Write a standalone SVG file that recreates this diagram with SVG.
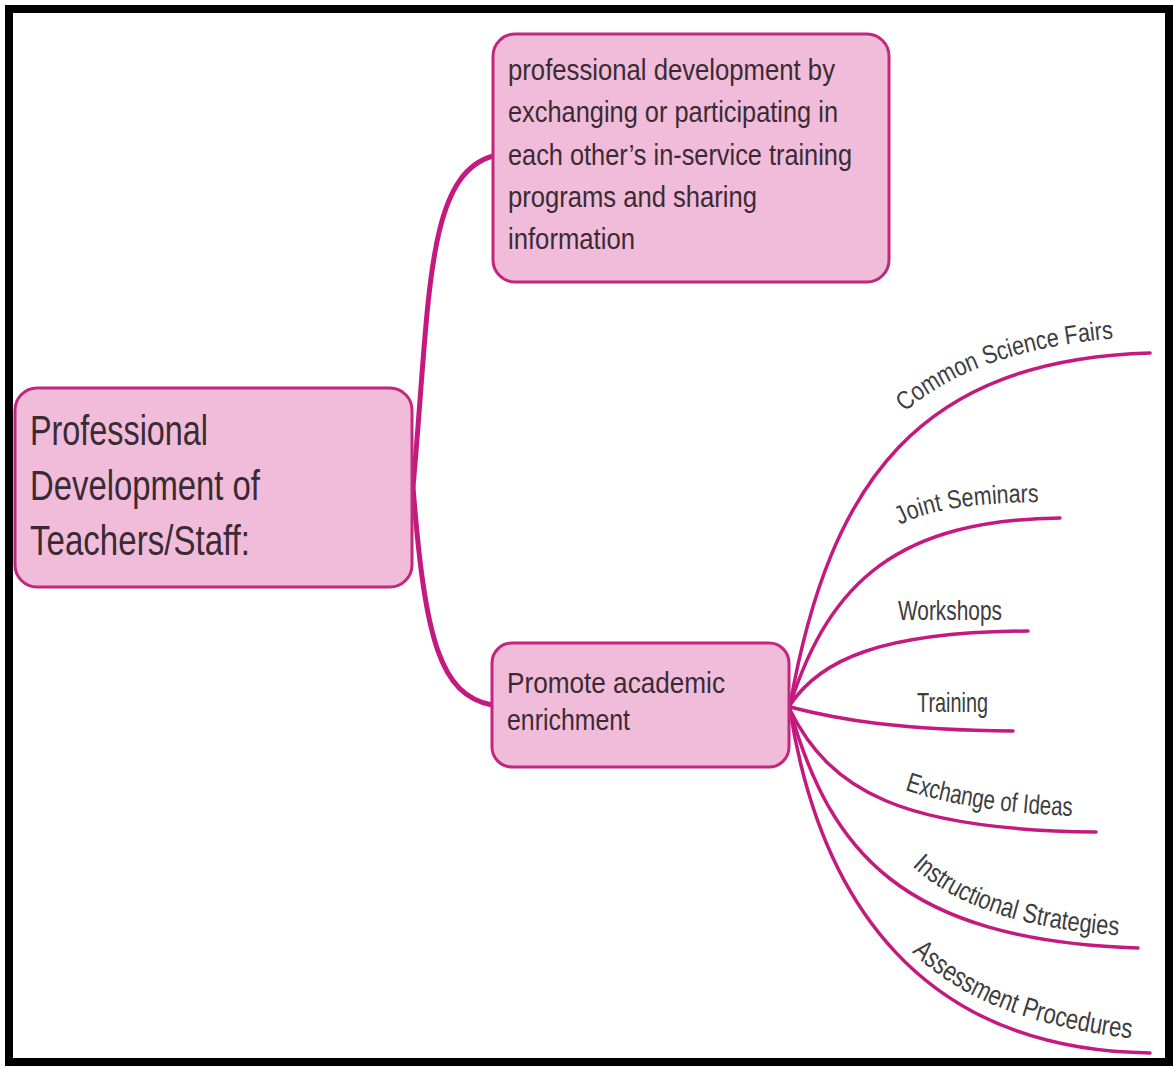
<svg xmlns="http://www.w3.org/2000/svg" width="1173" height="1067" viewBox="0 0 1173 1067">
<style>
.box{fill:#f1bcd9;stroke:#c2267e;stroke-width:3}
.t{font-family:"Liberation Sans",Arial,sans-serif;fill:#3a2b33}
.c{fill:none;stroke:#c4197f;stroke-linecap:round}
.main{stroke-width:5}
.leaf{stroke-width:3.5}
.lbl{font-family:"Liberation Sans",Arial,sans-serif;fill:#3d3d3d}
</style>
<defs>
<path id="p1" d="M 905 412 Q 975 350 1118 338"/>
<path id="p2" d="M 900 525 Q 940 503 1040 502"/>
<path id="p5" d="M 905 790 Q 970 812 1075 816"/>
<path id="p6" d="M 912 866 Q 975 925 1115 935"/>
<path id="p7" d="M 912 952 Q 980 1020 1128 1038"/>
</defs>
<rect x="0" y="0" width="1173" height="1067" fill="#ffffff"/>
<rect x="9" y="9" width="1160" height="1053" fill="none" stroke="#000000" stroke-width="8"/>
<g id="connectors">
<path class="c main" d="M 413 487 C 430 300, 425 175, 493 156"/>
<path class="c main" d="M 413 487 C 425 640, 440 695, 492 705"/>
<path class="c leaf" d="M 790 705 C 830 480, 920 360, 1150 353"/>
<path class="c leaf" d="M 790 705 C 830 580, 900 520, 1060 518"/>
<path class="c leaf" d="M 790 705 C 820 660, 880 632, 1028 631"/>
<path class="c leaf" d="M 790 707 C 840 720, 900 730, 1013 731"/>
<path class="c leaf" d="M 790 710 C 830 790, 900 830, 1096 832"/>
<path class="c leaf" d="M 790 710 C 830 850, 900 940, 1138 948"/>
<path class="c leaf" d="M 790 710 C 820 900, 920 1050, 1150 1053"/>
</g>
<g id="root">
<rect class="box" x="15" y="388" width="397" height="199" rx="22"/>
<text class="t" font-size="42" x="30" y="445" textLength="178" lengthAdjust="spacingAndGlyphs">Professional</text>
<text class="t" font-size="42" x="30" y="500" textLength="230" lengthAdjust="spacingAndGlyphs">Development of</text>
<text class="t" font-size="42" x="30" y="555" textLength="220" lengthAdjust="spacingAndGlyphs">Teachers/Staff:</text>
</g>
<g id="top-node">
<rect class="box" x="493" y="34" width="396" height="248" rx="22"/>
<text class="t" font-size="30" x="508" y="80" textLength="327" lengthAdjust="spacingAndGlyphs">professional development by</text>
<text class="t" font-size="30" x="508" y="122" textLength="330" lengthAdjust="spacingAndGlyphs">exchanging or participating in</text>
<text class="t" font-size="30" x="508" y="165" textLength="344" lengthAdjust="spacingAndGlyphs">each other’s in-service training</text>
<text class="t" font-size="30" x="508" y="207" textLength="249" lengthAdjust="spacingAndGlyphs">programs and sharing</text>
<text class="t" font-size="30" x="508" y="249" textLength="127" lengthAdjust="spacingAndGlyphs">information</text>
</g>
<g id="enrich-node">
<rect class="box" x="492" y="643" width="297" height="124" rx="20"/>
<text class="t" font-size="30" x="507" y="693" textLength="218" lengthAdjust="spacingAndGlyphs">Promote academic</text>
<text class="t" font-size="30" x="507" y="730" textLength="123" lengthAdjust="spacingAndGlyphs">enrichment</text>
</g>
<g id="leaf-science-fairs">
<text class="lbl" font-size="26" textLength="225" lengthAdjust="spacingAndGlyphs"><textPath href="#p1" textLength="225" lengthAdjust="spacingAndGlyphs">Common Science Fairs</textPath></text>
</g>
<g id="leaf-joint-seminars">
<text class="lbl" font-size="26" textLength="142" lengthAdjust="spacingAndGlyphs"><textPath href="#p2" textLength="142" lengthAdjust="spacingAndGlyphs">Joint Seminars</textPath></text>
</g>
<g id="leaf-workshops">
<text class="lbl" font-size="28" x="898" y="620" textLength="104" lengthAdjust="spacingAndGlyphs">Workshops</text>
</g>
<g id="leaf-training">
<text class="lbl" font-size="28" x="917" y="712" textLength="71" lengthAdjust="spacingAndGlyphs">Training</text>
</g>
<g id="leaf-exchange">
<text class="lbl" font-size="27" textLength="170" lengthAdjust="spacingAndGlyphs"><textPath href="#p5" textLength="170" lengthAdjust="spacingAndGlyphs">Exchange of Ideas</textPath></text>
</g>
<g id="leaf-instructional">
<text class="lbl" font-size="27" textLength="222" lengthAdjust="spacingAndGlyphs"><textPath href="#p6" textLength="222" lengthAdjust="spacingAndGlyphs">Instructional Strategies</textPath></text>
</g>
<g id="leaf-assessment">
<text class="lbl" font-size="28" textLength="240" lengthAdjust="spacingAndGlyphs"><textPath href="#p7" textLength="240" lengthAdjust="spacingAndGlyphs">Assessment Procedures</textPath></text>
</g>
</svg>
